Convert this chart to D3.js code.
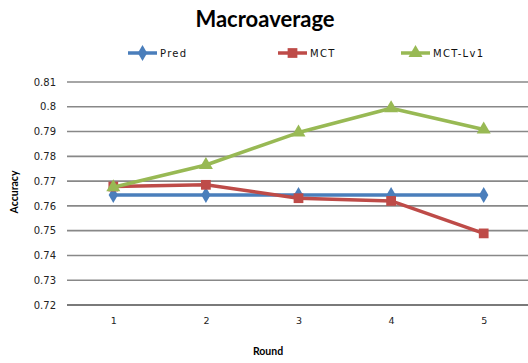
<!DOCTYPE html>
<html>
<head>
<meta charset="utf-8">
<script src="https://cdn.jsdelivr.net/npm/d3@7/dist/d3.min.js"></script>
<style>
  html, body { margin: 0; padding: 0; background: #fff; }
  svg { display: block; }
</style>
</head>
<body>
<svg id="chart" width="528" height="363"></svg>
<script>
// Accuracy per round for each method
const rounds = [1, 2, 3, 4, 5];
const predValues = [0.7644, 0.7644, 0.7644, 0.7644, 0.7644];
const mctValues = [0.7678, 0.7685, 0.7631, 0.7620, 0.7489];
const mctLv1Values = [0.7675, 0.7765, 0.7896, 0.7994, 0.7908];
const yTicks = [0.72, 0.73, 0.74, 0.75, 0.76, 0.77, 0.78, 0.79, 0.8, 0.81];
const seriesNames = ["Pred", "MCT", "MCT-Lv1"];

const series = [
  { name: seriesNames[0], values: predValues, color: "#4a7ebb", marker: d3.symbolDiamond, size: 75 },
  { name: seriesNames[1], values: mctValues, color: "#be4b48", marker: d3.symbolSquare, size: 95 },
  { name: seriesNames[2], values: mctLv1Values, color: "#98b954", marker: d3.symbolTriangle, size: 85 }
];

const svg = d3.select("#chart");
const plot = { left: 67, right: 530, top: 82, bottom: 305 };

const x = d3.scalePoint().domain(rounds).range([plot.left, plot.right]).padding(0.5);
const y = d3.scaleLinear().domain([0.72, 0.81]).range([plot.bottom, plot.top]);

// Title
svg.append("text")
  .attr("x", 265).attr("y", 27)
  .attr("text-anchor", "middle")
  .attr("font-family", "Lato, 'Open Sans', sans-serif")
  .attr("font-weight", "bold")
  .attr("font-size", 22)
  .attr("fill", "#000")
  .text("Macroaverage");

// Horizontal gridlines
svg.append("g")
  .selectAll("line")
  .data(yTicks)
  .join("line")
  .attr("x1", plot.left).attr("x2", plot.right)
  .attr("y1", d => y(d)).attr("y2", d => y(d))
  .attr("stroke", d => d === 0.72 ? "#7a7a7a" : "#888")
  .attr("stroke-width", d => d === 0.72 ? 2 : 1.6);

// Y axis labels
const yAxis = d3.axisLeft(y).tickValues(yTicks).tickSize(0).tickPadding(11)
  .tickFormat(d => d3.format("")(+d.toFixed(2)));
const gy = svg.append("g").attr("transform", `translate(${plot.left},0)`).call(yAxis);
gy.select(".domain").remove();
gy.selectAll("text")
  .attr("font-family", "'DejaVu Sans', sans-serif")
  .attr("font-size", 10)
  .attr("fill", "#222");

// X axis labels
const xAxis = d3.axisBottom(x).tickSize(0).tickPadding(12);
const gx = svg.append("g").attr("transform", `translate(0,${plot.bottom})`).call(xAxis);
gx.select(".domain").remove();
gx.selectAll("text")
  .attr("font-family", "'DejaVu Sans', sans-serif")
  .attr("font-size", 9.5)
  .attr("fill", "#222");

// Axis titles
svg.append("text")
  .attr("x", 268).attr("y", 355)
  .attr("text-anchor", "middle")
  .attr("font-family", "Lato, 'Open Sans', sans-serif")
  .attr("font-weight", "bold")
  .attr("font-size", 10.5)
  .text("Round");

svg.append("text")
  .attr("transform", "translate(18,192) rotate(-90)")
  .attr("text-anchor", "middle")
  .attr("font-family", "Lato, 'Open Sans', sans-serif")
  .attr("font-weight", "bold")
  .attr("font-size", 10.5)
  .text("Accuracy");

// Lines and markers
const line = d3.line().x((d, i) => x(rounds[i])).y(d => y(d));

series.forEach(s => {
  const g = svg.append("g");
  g.append("path")
    .datum(s.values)
    .attr("d", line)
    .attr("fill", "none")
    .attr("stroke", s.color)
    .attr("stroke-width", 3.5)
    .attr("stroke-linejoin", "round");
  g.selectAll("path.marker")
    .data(s.values)
    .join("path")
    .attr("class", "marker")
    .attr("transform", (d, i) => `translate(${x(rounds[i])},${y(d)})`)
    .attr("d", d3.symbol().type(s.marker).size(s.size))
    .attr("fill", s.color);
});

// Legend
const legendPos = [128, 278, 401];
series.forEach((s, i) => {
  const lx = legendPos[i], ly = 53;
  const g = svg.append("g");
  g.append("line")
    .attr("x1", lx).attr("x2", lx + 29)
    .attr("y1", ly).attr("y2", ly)
    .attr("stroke", s.color).attr("stroke-width", 3.5);
  g.append("path")
    .attr("transform", `translate(${lx + 14.5},${ly})`)
    .attr("d", d3.symbol().type(s.marker).size(s.size))
    .attr("fill", s.color);
  g.append("text")
    .attr("x", lx + 32).attr("y", ly + 4)
    .attr("font-family", "'DejaVu Sans', sans-serif")
    .attr("font-size", 10)
    .attr("letter-spacing", 1.3)
    .attr("fill", "#111")
    .text(s.name);
});
</script>
</body>
</html>
